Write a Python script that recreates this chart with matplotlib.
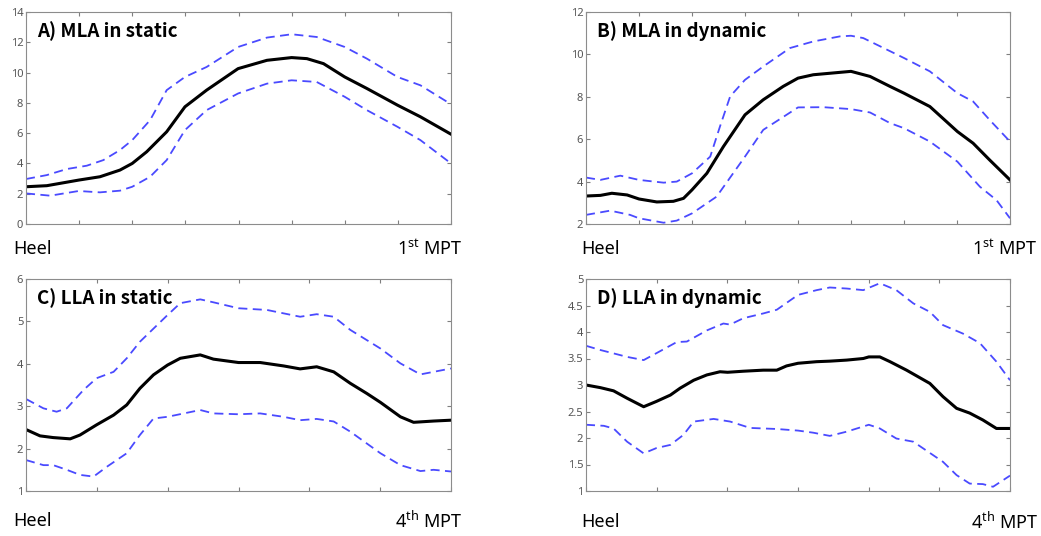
import numpy as np
import matplotlib
matplotlib.use('Agg')
import matplotlib.pyplot as plt

plt.rcParams['font.family'] = ['Noto Sans', 'DejaVu Sans']
plt.rcParams['mathtext.fontset'] = 'custom'
plt.rcParams['mathtext.rm'] = 'Noto Sans'
plt.rcParams['mathtext.default'] = 'regular'

# A) MLA in static
a_mean_x = [0, 4.9, 12.4, 17.4, 22.1, 25, 28.4, 33.1, 37.4, 42.5, 49.9, 56.7, 62.5, 66.1, 70, 75, 80.2, 87.4, 92.8, 100]
a_mean_y = [2.46, 2.53, 2.9, 3.12, 3.56, 4.0, 4.77, 6.09, 7.74, 8.84, 10.26, 10.81, 10.99, 10.92, 10.59, 9.71, 8.95, 7.85, 7.08, 5.93]
a_up_x = [0, 4.9, 9.6, 14.3, 18.2, 22.1, 25, 29.2, 33.1, 37.4, 42.5, 49.9, 56.7, 62.5, 68.4, 75, 80.2, 87.4, 92.8, 100]
a_up_y = [2.97, 3.23, 3.63, 3.85, 4.22, 4.88, 5.54, 6.86, 8.84, 9.71, 10.37, 11.69, 12.31, 12.53, 12.35, 11.69, 10.92, 9.71, 9.16, 7.91]
a_lo_x = [0, 5.7, 12.4, 17.4, 22.1, 25, 29.2, 33.1, 37.4, 42.5, 49.9, 56.7, 62.5, 68.4, 75, 80.2, 87.4, 92.8, 100]
a_lo_y = [2.02, 1.87, 2.18, 2.09, 2.2, 2.46, 3.12, 4.22, 6.2, 7.52, 8.62, 9.27, 9.49, 9.38, 8.4, 7.52, 6.42, 5.54, 4.0]

# B) MLA in dynamic
b_mean_x = [0, 3.4, 6.1, 9.7, 12.5, 16.7, 20.6, 23.0, 25.0, 28.5, 32.4, 37.5, 41.8, 46.5, 50, 53.6, 62.5, 67.0, 71.7, 75.0, 81.1, 87.6, 91.3, 95.2, 100]
b_mean_y = [3.32, 3.35, 3.45, 3.37, 3.18, 3.04, 3.07, 3.21, 3.61, 4.39, 5.65, 7.15, 7.86, 8.49, 8.88, 9.04, 9.2, 8.96, 8.49, 8.17, 7.54, 6.36, 5.81, 5.02, 4.08]
b_up_x = [0, 3.4, 8.1, 12.5, 18.3, 21.4, 25, 29.3, 31.6, 34.0, 37.5, 41.8, 48.1, 53.6, 59.9, 62.5, 65.4, 75, 81.1, 87.6, 91.3, 95.2, 100]
b_up_y = [4.19, 4.08, 4.28, 4.08, 3.95, 4.0, 4.39, 5.18, 6.6, 8.02, 8.8, 9.43, 10.3, 10.61, 10.85, 10.88, 10.77, 9.83, 9.2, 8.17, 7.78, 6.91, 5.89]
b_lo_x = [0, 5.7, 10.4, 12.5, 18.3, 21.4, 25, 30.8, 37.5, 41.8, 50, 56, 62.5, 67, 71.7, 75, 81.1, 87.6, 92.9, 96.8, 100]
b_lo_y = [2.43, 2.63, 2.43, 2.27, 2.06, 2.16, 2.5, 3.29, 5.18, 6.44, 7.5, 7.51, 7.42, 7.26, 6.76, 6.52, 5.89, 4.94, 3.76, 3.13, 2.27]

# C) LLA in static
c_mean_x = [0, 3.3, 6.4, 10.4, 12.7, 16.6, 20.6, 23.7, 26.8, 30.0, 33.3, 36.3, 41.0, 44.1, 50, 55.1, 60.6, 64.5, 68.4, 72.4, 76.3, 80.2, 83.4, 88.1, 91.2, 95.9, 100]
c_mean_y = [2.45, 2.30, 2.26, 2.23, 2.32, 2.56, 2.79, 3.03, 3.42, 3.74, 3.97, 4.13, 4.21, 4.11, 4.03, 4.03, 3.95, 3.88, 3.93, 3.81, 3.54, 3.30, 3.09, 2.75, 2.62, 2.65, 2.67]
c_up_x = [0, 4.1, 7.2, 9.6, 13.5, 16.6, 20.6, 23.7, 26.8, 33.3, 36.3, 41.0, 44.1, 50, 56.7, 60.6, 64.5, 68.4, 72.4, 76.3, 83.4, 88.1, 92.8, 95.9, 100]
c_up_y = [3.17, 2.95, 2.87, 2.95, 3.38, 3.66, 3.81, 4.13, 4.52, 5.15, 5.43, 5.52, 5.45, 5.31, 5.27, 5.19, 5.11, 5.17, 5.11, 4.8, 4.36, 4.01, 3.75, 3.81, 3.89]
c_lo_x = [0, 4.1, 6.4, 9.6, 12.7, 15.9, 19.0, 23.7, 26.8, 30.0, 33.3, 41.0, 44.1, 50, 55.1, 60.6, 64.5, 68.4, 72.4, 76.3, 83.4, 88.1, 92.8, 95.9, 100]
c_lo_y = [1.73, 1.61, 1.61, 1.5, 1.38, 1.34, 1.57, 1.89, 2.32, 2.71, 2.75, 2.91, 2.83, 2.81, 2.83, 2.75, 2.67, 2.70, 2.64, 2.40, 1.89, 1.61, 1.47, 1.50, 1.46]

# D) LLA in dynamic
d_mean_x = [0, 3.4, 6.5, 9.7, 13.6, 16.6, 19.9, 22.2, 25.4, 28.5, 31.6, 33.4, 37.1, 41.8, 45.0, 47.3, 50, 54.4, 57.5, 61.5, 65.4, 66.7, 69.3, 71.7, 75.6, 81.1, 84.2, 87.4, 90.5, 93.6, 96.8, 100]
d_mean_y = [3.0, 2.95, 2.89, 2.75, 2.59, 2.69, 2.81, 2.94, 3.09, 3.19, 3.25, 3.24, 3.26, 3.28, 3.28, 3.36, 3.41, 3.44, 3.45, 3.47, 3.50, 3.53, 3.53, 3.44, 3.28, 3.03, 2.78, 2.56, 2.47, 2.34, 2.18, 2.18]
d_up_x = [0, 3.4, 7.3, 9.7, 13.6, 16.6, 21.4, 23.8, 28.5, 32.4, 34.0, 37.1, 41.8, 45.0, 50, 54.4, 57.5, 61.5, 65.4, 69.3, 73.2, 77.2, 81.1, 84.2, 88.9, 92.9, 96.8, 100]
d_up_y = [3.74, 3.66, 3.58, 3.53, 3.47, 3.60, 3.81, 3.82, 4.03, 4.16, 4.14, 4.26, 4.35, 4.42, 4.70, 4.79, 4.84, 4.82, 4.79, 4.92, 4.79, 4.54, 4.38, 4.13, 3.97, 3.79, 3.44, 3.09]
d_lo_x = [0, 4.2, 6.5, 9.7, 13.6, 16.6, 19.9, 23.0, 25.4, 30.1, 34.0, 38.7, 45.0, 50, 53.6, 57.5, 61.5, 66.7, 69.3, 73.2, 77.2, 84.2, 87.4, 90.5, 93.6, 96.0, 100]
d_lo_y = [2.25, 2.23, 2.18, 1.93, 1.71, 1.81, 1.87, 2.06, 2.31, 2.36, 2.31, 2.19, 2.17, 2.14, 2.10, 2.04, 2.12, 2.25, 2.18, 1.99, 1.93, 1.55, 1.30, 1.14, 1.13, 1.08, 1.29]

titles = ['A) MLA in static', 'B) MLA in dynamic', 'C) LLA in static', 'D) LLA in dynamic']
end_labels = ['1$^{st}$ MPT', '1$^{st}$ MPT', '4$^{th}$ MPT', '4$^{th}$ MPT']
ylims = [(0, 14), (2, 12), (1, 6), (1, 5)]
yticks = [np.arange(0, 15, 2), np.arange(2, 13, 2), np.arange(1, 7, 1), np.arange(1, 5.1, 0.5)]
n_xticks = [9, 9, 7, 7]
series = [
    (a_mean_x, a_mean_y, a_up_x, a_up_y, a_lo_x, a_lo_y),
    (b_mean_x, b_mean_y, b_up_x, b_up_y, b_lo_x, b_lo_y),
    (c_mean_x, c_mean_y, c_up_x, c_up_y, c_lo_x, c_lo_y),
    (d_mean_x, d_mean_y, d_up_x, d_up_y, d_lo_x, d_lo_y),
]

W, H = 1041, 536
fig = plt.figure(figsize=(W / 100, H / 100), dpi=100)

# axes boxes in pixels: left, top, right, bottom
boxes = [(26, 12, 451, 224), (586, 12, 1010, 224), (26, 279, 451, 491), (586, 279, 1010, 491)]
heel_pos = [(13, 249), (581, 249), (13, 521), (581, 522)]
end_right = [462, 1037, 462, 1038]

for i, (l, t, r, b) in enumerate(boxes):
    ax = fig.add_axes([l / W, 1 - b / H, (r - l) / W, (b - t) / H])
    mx, my, ux, uy, lx, ly = series[i]
    ax.plot(ux, uy, '--', color='#4a4aff', lw=1.3, dashes=(5, 3))
    ax.plot(lx, ly, '--', color='#4a4aff', lw=1.3, dashes=(5, 3))
    ax.plot(mx, my, color='black', lw=2.2)
    ax.set_xlim(0, 100)
    ax.set_ylim(*ylims[i])
    ax.set_xticks(np.linspace(0, 100, n_xticks[i]))
    ax.set_xticklabels([])
    ax.set_yticks(yticks[i])
    ax.set_yticklabels([f'{v:g}' for v in yticks[i]])
    ax.tick_params(direction='in', length=3, width=0.8, color='#7f7f7f',
                   labelsize=8, labelcolor='#555555', top=True, right=True, pad=2)
    for s in ax.spines.values():
        s.set_color('#8c8c8c')
        s.set_linewidth(0.8)
    ax.text(0.025, 0.955, titles[i], transform=ax.transAxes, fontsize=13.5,
            fontweight='bold', va='top', ha='left',
            family=['Noto Sans CJK KR', 'DejaVu Sans'])
    hx, hy = heel_pos[i]
    fig.text(hx / W, 1 - hy / H, 'Heel', fontsize=13, ha='left', va='center')
    fig.text(end_right[i] / W, 1 - hy / H, end_labels[i], fontsize=13, ha='right', va='center')

fig.savefig('out.png', dpi=100)
